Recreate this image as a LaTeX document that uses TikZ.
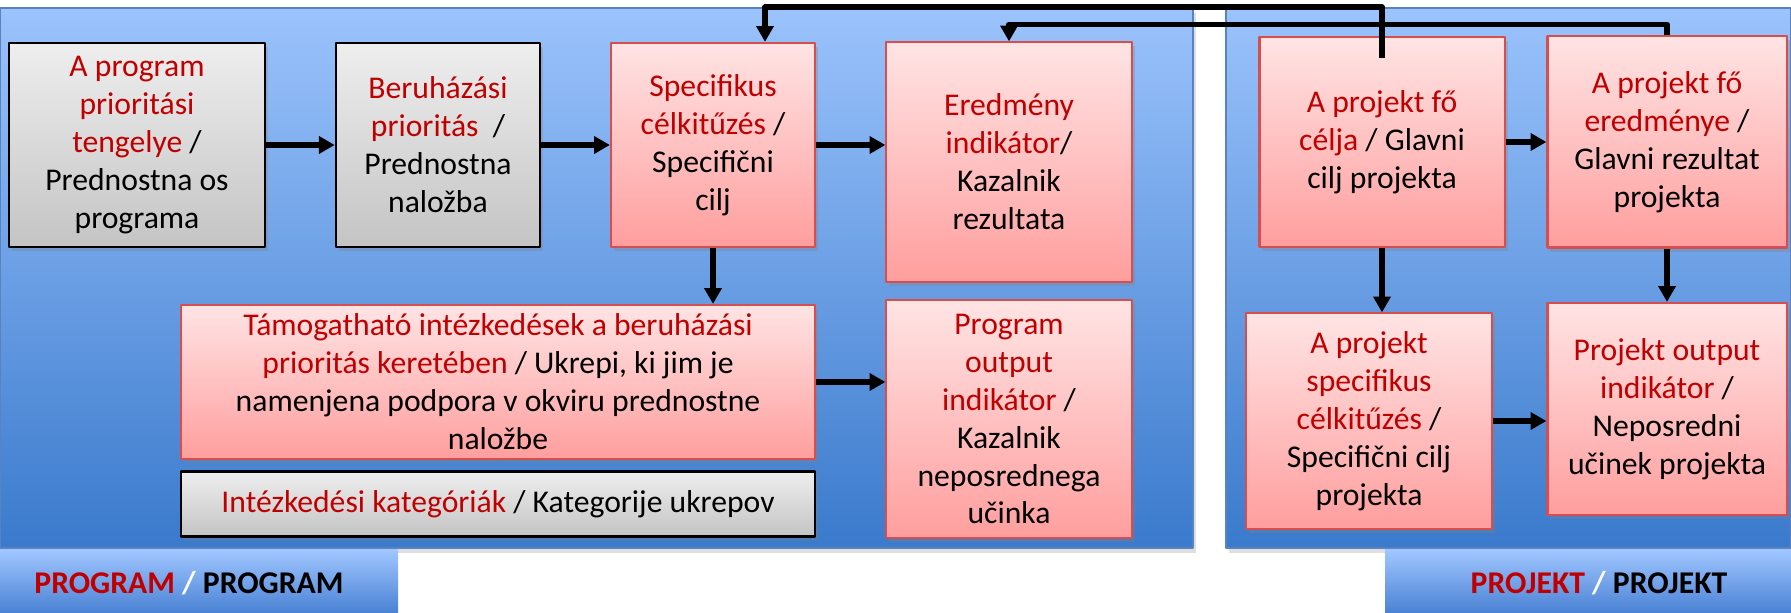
\documentclass[tikz,border=0pt]{standalone}
\usepackage{fontspec}
\setmainfont{Carlito}
\usetikzlibrary{arrows.meta,shadows}
\definecolor{hred}{RGB}{192,0,0}
\definecolor{pinktop}{RGB}{255,228,228}
\definecolor{pinkbot}{RGB}{255,158,158}
\definecolor{pinkline}{RGB}{214,78,78}
\definecolor{graytop}{RGB}{238,238,238}
\definecolor{graybot}{RGB}{196,196,196}
\definecolor{paneltop}{RGB}{155,195,252}
\definecolor{panelbot}{RGB}{58,122,204}
\definecolor{panelline}{RGB}{90,130,190}
\definecolor{tabtop}{RGB}{160,198,255}
\definecolor{tabbot}{RGB}{74,130,212}
\newcommand{\hun}[1]{\textcolor{hred}{#1}}
\begin{document}
\begin{tikzpicture}[x=0.01cm,y=-0.01cm,line join=round,
		box/.style={align=center,inner sep=2pt,font=\fontsize{9}{10.8}\selectfont,
			drop shadow={opacity=0.3,shadow xshift=0.03cm,shadow yshift=-0.04cm}},
		pinkbox/.style={box,draw=pinkline,line width=0.6pt,top color=pinktop,bottom color=pinkbot},
		graybox/.style={box,draw=black,line width=0.7pt,top color=graytop,bottom color=graybot},
		panel/.style={draw=panelline,line width=0.5pt,top color=paneltop,bottom color=panelbot},
		tab/.style={top color=tabtop,bottom color=tabbot},
		arr/.style={line width=1.6pt,-{Triangle[length=4.5pt,width=4.8pt]}}]
	\useasboundingbox[fill=white] (0,0) rectangle (1791,613);
	% background panels and tabs
	\shade[panel,drop shadow={opacity=0.25,shadow xshift=0.03cm,shadow yshift=-0.05cm}] (0,8) rectangle (1193,548);
	\shade[panel,drop shadow={opacity=0.25,shadow xshift=0.03cm,shadow yshift=-0.05cm}] (1226,8) rectangle (1791,548);
	\shade[tab] (0,550) rectangle (398,613);
	\shade[tab] (1385,550) rectangle (1791,613);
	\node[font=\bfseries\fontsize{9}{10.8}\selectfont] (tprog) at (189,583) {\hun{PROGRAM} \textcolor{white}{/} PROGRAM};
	\node[font=\bfseries\fontsize{9}{10.8}\selectfont] (tproj) at (1599,583) {\hun{PROJEKT} \textcolor{white}{/} PROJEKT};
	% program side
	\node[graybox,minimum width=2.56cm,minimum height=2.04cm] (b1) at (137,145) {\hun{A program}\\\hun{prioritási}\\\hun{tengelye} /\\Prednostna os\\programa};
	\node[graybox,minimum width=2.04cm,minimum height=2.04cm] (b2) at (438,145) {\hun{Beruházási}\\\hun{prioritás}\ \ /\\Prednostna\\naložba};
	\node[pinkbox,minimum width=2.04cm,minimum height=2.04cm] (b3) at (713,145) {\hun{Specifikus}\\\hun{célkitűzés} /\\Specifični\\cilj};
	\node[pinkbox,minimum width=2.45cm,minimum height=2.39cm] (b4) at (1009,162) {\hun{Eredmény}\\\hun{indikátor}/\\Kazalnik\\rezultata};
	\node[pinkbox,minimum width=6.34cm,minimum height=1.54cm] (b5) at (498,382) {\hun{Támogatható intézkedések a beruházási}\\\hun{prioritás keretében} / Ukrepi, ki jim je\\namenjena podpora v okviru prednostne\\naložbe};
	\node[graybox,minimum width=6.34cm,minimum height=0.65cm] (b6) at (498,504) {\hun{Intézkedési kategóriák} / Kategorije ukrepov};
	\node[pinkbox,minimum width=2.45cm,minimum height=2.38cm] (b7) at (1009,419) {\hun{Program}\\\hun{output}\\\hun{indikátor} /\\Kazalnik\\neposrednega\\učinka};
	% project side
	\node[pinkbox,minimum width=2.45cm,minimum height=2.1cm] (r1) at (1382,142) {\hun{A projekt fő}\\\hun{célja} / Glavni\\cilj projekta};
	\node[pinkbox,minimum width=2.39cm,minimum height=2.11cm] (r2) at (1667,142) {\hun{A projekt fő}\\\hun{eredménye} /\\Glavni rezultat\\projekta};
	\node[pinkbox,minimum width=2.46cm,minimum height=2.15cm] (r3) at (1369,421) {\hun{A projekt}\\\hun{specifikus}\\\hun{célkitűzés} /\\Specifični cilj\\projekta};
	\node[pinkbox,minimum width=2.39cm,minimum height=2.12cm] (r4) at (1667,409) {\hun{Projekt output}\\\hun{indikátor} /\\Neposredni\\učinek projekta};
	% connectors
	\foreach \a/\b in {b1/b2,b2/b3}
		\draw[arr] (\a.east) -- (\b.west);
	\draw[arr] (b3.east) -- (b3.east -| b4.west);
	\draw[arr] (b3.south) -- (b3.south |- b5.north);
	\draw[arr] (b5.east) -- (b5.east -| b7.west);
	\draw[arr] (r1.east) -- (r1.east -| r2.west);
	\draw[arr] (r3.east) -- (r3.east -| r4.west);
	\draw[arr] (r1.south) -- (r1.south |- r3.north);
	\draw[arr] (r2.south) -- (r2.south |- r4.north);
	\coordinate (top1) at (765,7);
	\draw[arr] ([yshift=-0.22cm]r1.north) |- (top1) -- (top1 |- b3.north);
	\draw[arr] (r2.north) -- ++(0,-11) -| (b4.north);
\end{tikzpicture}
\end{document}
